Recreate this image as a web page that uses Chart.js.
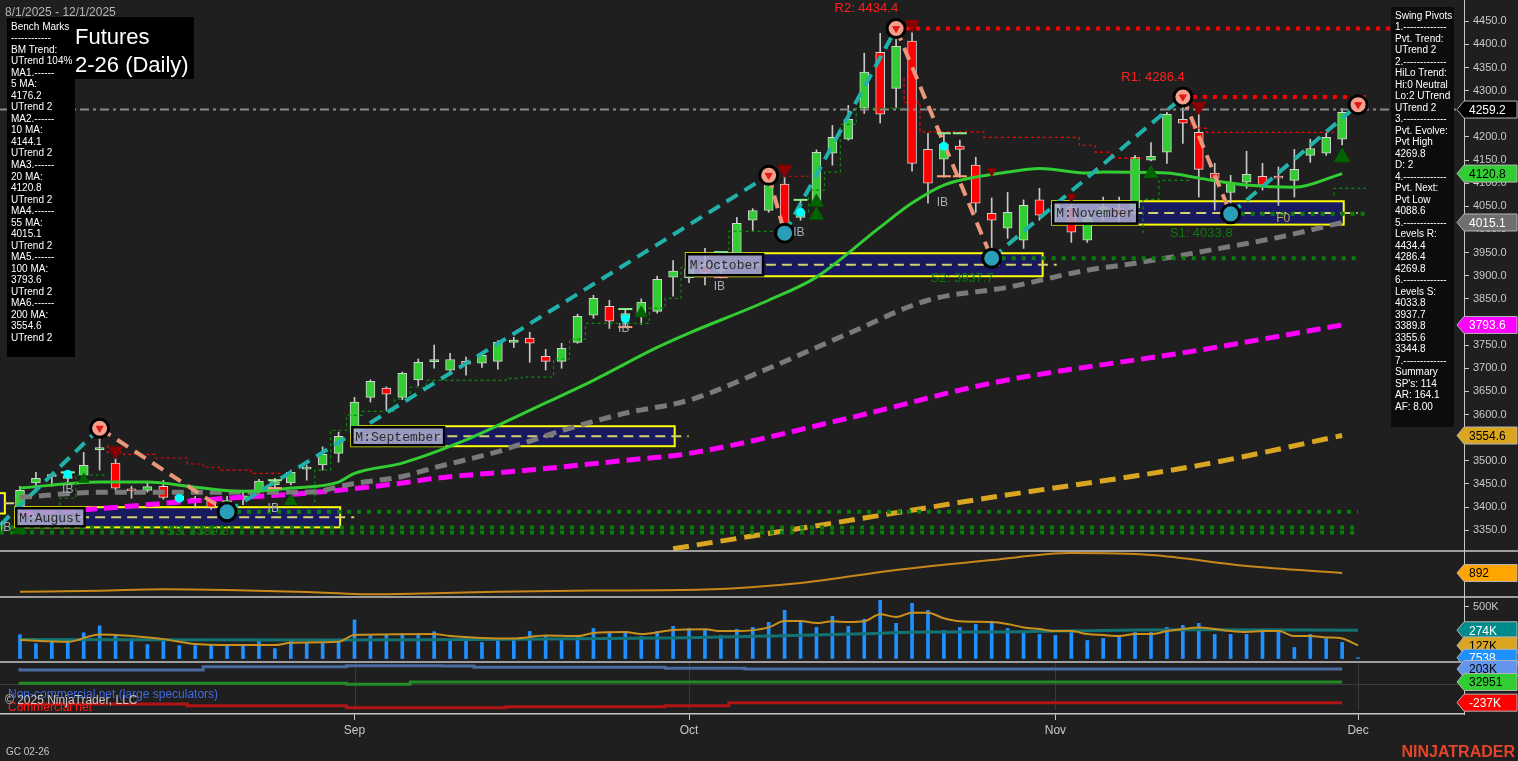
<!DOCTYPE html>
<html>
<head>
<meta charset="utf-8">
<script src="https://cdn.jsdelivr.net/npm/chart.js@4.4.1/dist/chart.umd.min.js"></script>
<style>
html, body { margin: 0; padding: 0; background: #1f1f1f; overflow: hidden; }
canvas { display: block; }
</style>
</head>
<body>
<canvas id="goldChart" width="1518" height="761"></canvas>
<script>
// ---- daily bars, GC 02-26, 8/1/2025 - 12/1/2025 (index 0 = Aug 1) ----
const openP = [3400,3452,3466,3462,3469,3524,3495,3438,3436,3445,
	3415,3419,3415,3400,3418,3432,3448,3452,3482,3491,
	3516,3560,3637,3657,3637,3675,3714,3696,3715,3711,
	3715,3756,3765,3726,3715,3756,3815,3834,3808,3814,
	3823,3897,3895,3922,3910,3949,4020,4041,4098,4026,
	4059,4165,4195,4262,4383,4305,4407,4173,4152,4180,
	4139,4035,4003,3977,4064,4031,4048,3977,4030,4045,
	4046,4150,4167,4238,4210,4122,4080,4102,4115,4114,
	4106,4160,4165,4195,4255];
const highP = [3445,3475,3472,3476,3518,3570,3505,3445,3454,3458,
	3436,3423,3421,3423,3436,3460,3462,3480,3490,3530,
	3562,3637,3675,3660,3692,3720,3750,3732,3724,3732,
	3760,3767,3778,3741,3754,3817,3858,3847,3828,3850,
	3899,3933,3935,3959,3930,4026,4045,4117,4113,4064,
	4172,4225,4268,4381,4424,4434.4,4426,4208,4208,4193,
	4156,4068,4080,4064,4089,4060,4057,4037,4070,4070,
	4160,4188,4253,4286.4,4251,4143,4117,4169,4143,4135,
	4173,4195,4208,4262,4269.8];
const lowP = [3390,3432,3445,3450,3462,3480,3436,3419,3432,3417,
	3410,3398,3395,3389.8,3405,3419,3438,3448,3458,3480,
	3497,3550,3627,3609,3632,3662,3700,3692,3685,3702,
	3698,3745,3713,3696,3700,3754,3808,3786,3790,3795,
	3819,3856,3885,3880,3895,3945,3998,4037,3992,4020,
	4057,4139,4193,4251,4230,4264,4126,4057,4113,4113,
	4037,3937.7,3981,3959,4020,4010,3972,3972,4020,4013,
	4041,4148,4143,4186,4070,4042,4033.8,4089,4085,4052,
	4070,4145,4160,4183,4248];
const closeP = [3436,3462,3468,3466,3490,3526,3441,3435,3444,3421,
	3424,3412,3400,3414,3424,3456,3455,3475,3486,3514,
	3553,3627,3672,3644,3689,3713,3719,3719,3709,3728,
	3756,3761,3754,3715,3743,3812,3851,3802,3818,3843,
	3892,3910,3915,3906,3915,4013,4041,4100,3998,4037,
	4167,4199,4238,4340,4249,4396,4143,4100,4184,4173,
	4057,4020,4037,4052,4031,4052,3994,4026,4048,4030,
	4156,4158,4249,4230,4130,4111,4100,4119,4096,4111,
	4130,4175,4199,4253,4259.2];
const volumeK = [231,144,157,157,250,317,221,192,135,167,
	125,125,135,135,125,183,96,173,151,151,
	189,375,221,231,240,231,260,183,212,156,
	192,192,263,224,195,224,292,244,263,214,
	263,312,292,283,224,283,302,351,468,361,
	302,409,312,380,565,341,536,468,273,302,
	331,341,292,253,234,224,253,175,195,214,
	253,253,302,322,341,234,234,234,273,253,
	107,234,195,156,7.5];

// axis ticks
const monthTickIdx = [21, 42, 65, 84];
const monthTickLabels = ['Sep', 'Oct', 'Nov', 'Dec'];
const priceTicks = [3350,3400,3450,3500,3550,3600,3650,3700,3750,3800,3850,3900,
	3950,4000,4050,4100,4150,4200,4250,4300,4350,4400,4450];
const volTicks = [500];

// moving averages (bar index, value)
const ma20Idx = [0,5,8,11,14,17,20,21,24,28,32,36,40,42,47,50,54,56,58,62,64,67,68,72,74,77,80,83];
const ma20Val = [3441,3454,3454,3443,3434,3441,3454,3473,3495,3545,3609,3674,3745,3776,3847,3897,4005,4057,4096,4124,4132,4122,4124,4122,4111,4096,4091,4120.8];
const ma55Idx = [0,5,13,18,21,24,26,30,34,38,42,47,52,57,62,67,70,74,79,83];
const ma55Val = [3421,3432,3432,3432,3451,3466,3485,3520,3565,3603,3631,3700,3775,3847,3875,3912,3927,3951,3983,4015.1];
const ma100Idx = [0,4,9,13,18,24,26,32,38,42,52,61,74,83];
const ma100Val = [3386,3394,3408,3419,3430,3452,3462,3480,3501,3516,3592,3668,3739,3793.6];
const ma200Idx = [41,49,61,74,83];
const ma200Val = [3310,3354,3421,3490,3554.6];
const lastPrice = 4259.2;

// swing pivots
const swingIdx = [-1.25, 5, 13, 47, 48, 55, 61, 73, 76, 84];
const swingPrice = [3361, 3570.4, 3389.8, 4117, 3992, 4434.4, 3937.7, 4286.4, 4033.8, 4269.8];

// swing levels (dotted)
const levelStart = [55, 73, 76, 61, 13, -1.25, -1.25];
const levelEnd = [89.1, 84.5, 84.5, 84, 84, 84, 84];
const levelPrice = [4434.4, 4286.4, 4033.8, 3937.7, 3389.8, 3355.6, 3344.8];
const levelIsRes = [true, true, false, false, false, false, false];
const levelTextIdx = [55, 73, 76, 61, 13];
const levelTextPrice = [4434.4, 4286.4, 4033.8, 3937.7, 3389.8];
const levelTextLabel = ['R2: 4434.4', 'R1: 4286.4', 'S1: 4033.8', 'S2: 3937.7', 'S3: 3389.8'];

// trailing stops (stepped)
const redStopIdx = [[5.5,6.5,8.5,10.5,11.5,12.5,14.5,15.5,16.5], [47.5,49.5], [55.5,56.5,60.5,66.5,67.5,68.5,69.5,70.5], [73.5,74.5,75.5,82.5]];
const redStopVal = [[3534,3518,3514,3506,3493,3486,3480,3473,3473], [4115,4115], [4327,4275,4211,4199,4182,4167,4154,4154], [4243,4219,4210,4210]];
const greenStopIdx = [[2.5,3.5,4.5,5.5], [18.5,19.5,20.5,21.5,23.5,24.5,25.5,30.5,31.5,33.5,34.5,35.5,39.5,40.5,41.5,44.5,46.5,47.9], [49.5,50.5,51.5,52.5,53.5,55.5], [70.5,71.5,72.5,73.5], [82.5,83.5,84.5]];
const greenStopVal = [[3378,3419,3469,3469], [3410,3480,3566,3598,3607,3633,3659,3674,3678,3681,3720,3763,3797,3830,3851,3918,3996,3996], [4037,4085,4124,4227,4262,4262], [3992,4065,4106,4106], [4074,4089,4089]];

// monthly boxes
const boxStart = [-3, -0.3, 20.8, 41.8, 64.8];
const boxEnd = [-0.95, 20.1, 41.1, 64.2, 83.1];
const boxHigh = [3430, 3399.7, 3574.7, 3948.6, 4061];
const boxLow = [3386, 3356.1, 3531.5, 3898.9, 4010.5];
const boxNames = ['', 'M:August', 'M:September', 'M:October', 'M:November'];

// markers
const downTriIdx = [6, 48, 56, 61, 66, 74];
const downTriPrice = [3521, 4130, 4443, 4126, 4070, 4266];
const upTriIdx = [0, 4, 13, 17, 39, 50, 50, 71, 83];
const upTriPrice = [3352, 3460, 3380, 3413, 3819, 4059, 4031, 4121, 4156];
const cyanIdx = [3, 10, 38, 49, 58];
const cyanPrice = [3471, 3419, 3807, 4037, 4180];
const ibHiIdx = [3, 16, 38, 44, 49, 58, 59];
const ibHiPrice = [3475, 3458, 3828, 3951, 4064, 4208, 4208];
const ibLoIdx = [16, 38, 44, 58, 59];
const ibLoPrice = [3441, 3789, 3897, 4115, 4115];
const ibTextIdx = [-0.9, 3, 15.9, 37.9, 43.9, 48.9, 57.9];
const ibTextPrice = [3356, 3438, 3397, 3786, 3877, 3992, 4057];

// indicator panel
const indIdx = [0,5,9,13,18,20,22,26,30,36,43,49,55,61,66,71,77,83];
const indVal = [197,234,286,260,186,138,100,138,197,240,279,520,1004,1375,1635,1561,1152,892];

// volume averages (K)
const volFastIdx = [0,3,5,7,9,11,14,16,17,20,21,26,27,29,31,33,35,36,38,39,41,43,44,45,47,48,49,50,51,52,53,54,55,56,57,58,59,61,62,63,64,65,66,67,68,69,70,71,72,73,74,75,76,77,78,79,80,81,82,83,84];
const volFastVal = [179,162,234,218,188,140,130,130,153,162,227,237,218,200,195,224,218,247,257,237,276,283,266,266,302,364,364,344,361,354,361,429,403,445,445,390,361,354,335,302,286,266,266,237,227,218,237,237,266,286,302,286,266,257,266,266,218,218,205,195,127];
const volSlowIdx = [0,20,29,42,47,53,57,60,65,70,74,84];
const volSlowVal = [185,180,185,201,218,240,257,257,266,276,280,274];

// COT net positions (K)
const cotSpecIdx = [0,11.5,20.5,26.5,28.5,40.5,45.5,50.5,83];
const cotSpecVal = [212,189,232,246,242,225,212,203,203];
const cotSmallIdx = [0,20.5,24.5,30.5,83];
const cotSmallVal = [33,16,3,33,33];
const cotCommIdx = [0,10.5,20.5,30.5,40.5,44.5,50.5,83];
const cotCommVal = [-289,-254,-276,-302,-289,-276,-237,-237];

// right-side value flags
const flagAxis = ['y','y','y','y','y','yInd','yVol','yVol','yVol','yCot','yCot','yCot'];
const flagValue = [4259.2, 4120.8, 4015.1, 3793.6, 3554.6, 892, 274, 127, 7.5, 203, 33, -237];
const flagText = ['4259.2','4120.8','4015.1','3793.6','3554.6','892','274K','127K','7538','203K','32951','-237K'];
const flagBg = ['#000000','#32cd32','#6e6e6e','#ff00ff','#daa520','#ffa500','#008b8b','#daa520','#1e90ff','#6495ed','#32cd32','#ff0000'];
const flagFg = ['#ffffff','#000000','#ffffff','#ffffff','#000000','#000000','#ffffff','#000000','#ffffff','#000000','#000000','#ffffff'];

const benchLines = ['Bench Marks','------------','BM Trend:','UTrend 104%','MA1.------','5 MA:','4176.2','UTrend 2',
	'MA2.------','10 MA:','4144.1','UTrend 2','MA3.------','20 MA:','4120.8','UTrend 2','MA4.------','55 MA:',
	'4015.1','UTrend 2','MA5.------','100 MA:','3793.6','UTrend 2','MA6.------','200 MA:','3554.6','UTrend 2'];
const swingLines = ['Swing Pivots','1.-------------','Pvt. Trend:','UTrend 2','2.-------------','HiLo Trend:',
	'Hi:0 Neutral','Lo:2 UTrend','UTrend 2','3.-------------','Pvt. Evolve:','Pvt High','4269.8','D: 2',
	'4.-------------','Pvt. Next:','Pvt Low','4088.6','5.-------------','Levels R:','4434.4','4286.4','4269.8',
	'6.-------------','Levels S:','4033.8','3937.7','3389.8','3355.6','3344.8','7.-------------','Summary',
	"SP's: 114",'AR: 164.1','AF: 8.00'];

const FONT = '"Liberation Sans", Arial, sans-serif';
const MONO = '"Liberation Mono", "DejaVu Sans Mono", monospace';
const BG = '#1f1f1f';
const AXIS = '#c8c8c8';
const TEAL = '#20b2aa';
const SALMON = '#e9967a';

const pts = (xs, ys) => xs.map((v, k) => ({ x: v, y: ys[k] }));
const barIdx = openP.map((_, i) => i);
const xMin = -1.255, xMax = 90.65;

const datasets = [];

// candles: wicks then bodies
datasets.push({
	type: 'bar', yAxisID: 'y', grouped: false, order: 30,
	data: barIdx.map(i => ({ x: i, y: [lowP[i], highP[i]] })),
	barThickness: 1, backgroundColor: '#c8c8c8'
});
datasets.push({
	type: 'bar', yAxisID: 'y', grouped: false, order: 29,
	data: barIdx.map(i => ({ x: i, y: [openP[i], closeP[i]] })),
	barThickness: 9, minBarLength: 2, borderWidth: 1, borderSkipped: false, borderColor: '#d4d4d4',
	backgroundColor: barIdx.map(i => closeP[i] >= openP[i] ? '#32cd32' : '#ff0000')
});

function maLine(xs, ys, color, dash, width, order) {
	return {
		type: 'line', yAxisID: 'y', order: order, data: pts(xs, ys),
		borderColor: color, borderWidth: width, borderDash: dash,
		pointRadius: 0, cubicInterpolationMode: 'monotone', fill: false
	};
}
datasets.push(maLine(ma200Idx, ma200Val, '#daa520', [16, 8], 5, 26));
datasets.push(maLine(ma100Idx, ma100Val, '#ff00ff', [14, 7], 5, 25));
datasets.push(maLine(ma55Idx, ma55Val, '#7a7a7a', [12, 7], 5, 24));
datasets.push(maLine(ma20Idx, ma20Val, '#32cd32', [], 3, 23));

// last price line
datasets.push({
	type: 'line', yAxisID: 'y', order: 22,
	data: [{ x: xMin, y: lastPrice }, { x: xMax, y: lastPrice }],
	borderColor: '#8a8a8a', borderWidth: 2, borderDash: [9, 4, 3, 4], pointRadius: 0
});

// swing levels
levelPrice.forEach((p, k) => {
	datasets.push({
		type: 'line', yAxisID: 'y', order: 20,
		data: [{ x: levelStart[k], y: p }, { x: levelEnd[k], y: p }],
		borderColor: levelIsRes[k] ? '#ff0000' : '#0b7d0b', borderWidth: 4, borderDash: [4, 6], pointRadius: 0
	});
});

// trailing stops
redStopIdx.forEach((xs, k) => {
	datasets.push({
		type: 'line', yAxisID: 'y', order: 19, data: pts(xs, redStopVal[k]), stepped: 'after',
		borderColor: '#ff0000', borderWidth: 1.2, borderDash: [3, 3], pointRadius: 0
	});
});
greenStopIdx.forEach((xs, k) => {
	datasets.push({
		type: 'line', yAxisID: 'y', order: 19, data: pts(xs, greenStopVal[k]), stepped: 'after',
		borderColor: '#0d8a0d', borderWidth: 1.2, borderDash: [3, 3], pointRadius: 0
	});
});

// swing lines
datasets.push({
	type: 'line', yAxisID: 'y', order: 10, data: pts(swingIdx, swingPrice),
	borderWidth: 4, borderDash: [13, 8], pointRadius: 0, borderColor: TEAL,
	segment: { borderColor: c => c.p1.parsed.y > c.p0.parsed.y ? TEAL : SALMON }
});

// markers
function marks(xs, ys, style, color, radius, rot, order, extra) {
	return Object.assign({
		type: 'line', yAxisID: 'y', showLine: false, order: order, data: pts(xs, ys),
		pointStyle: style, pointRadius: radius, pointRotation: rot,
		pointBackgroundColor: color, pointBorderColor: color, pointBorderWidth: 1
	}, extra || {});
}
datasets.push(marks(downTriIdx, downTriPrice, 'triangle', '#8b0000', [8, 8, 8, 5, 5, 8], 180, 7));
datasets.push(marks(upTriIdx, upTriPrice, 'triangle', '#006400', [8, 6, 5, 7, 7, 8, 8, 8, 9], 0, 7));
datasets.push(marks(ibHiIdx, ibHiPrice, 'line', '#90ee90', 7, 0, 8, { pointBorderWidth: 2 }));
datasets.push(marks(ibLoIdx, ibLoPrice, 'line', '#ffa07a', 7, 0, 8, { pointBorderWidth: 2 }));
datasets.push(marks(cyanIdx, cyanPrice, 'circle', '#00ffff', 4, 0, 6));

// pivot circles
const hiPiv = [], loPiv = [];
swingIdx.forEach((v, k) => {
	if (k === 0) return;
	(swingPrice[k] > swingPrice[k - 1] ? hiPiv : loPiv).push({ x: v, y: swingPrice[k] });
});
datasets.push({ type: 'line', yAxisID: 'y', showLine: false, order: 5, data: hiPiv,
	pointRadius: 9, pointBorderWidth: 3, pointBorderColor: '#000', pointBackgroundColor: '#f2a08c' });
datasets.push({ type: 'line', yAxisID: 'y', showLine: false, order: 5, data: loPiv,
	pointRadius: 9, pointBorderWidth: 3, pointBorderColor: '#000', pointBackgroundColor: '#2a9db8' });
datasets.push({ type: 'line', yAxisID: 'y', showLine: false, order: 4, data: hiPiv,
	pointStyle: 'triangle', pointRotation: 180, pointRadius: 4, pointBackgroundColor: '#e01818', pointBorderColor: '#e01818' });

// indicator panel
datasets.push({ type: 'line', yAxisID: 'yInd', order: 3, data: pts(indIdx, indVal),
	borderColor: '#c8871a', borderWidth: 2, pointRadius: 0, cubicInterpolationMode: 'monotone' });

// volume panel
datasets.push({ type: 'bar', yAxisID: 'yVol', grouped: false, order: 12,
	data: barIdx.map(i => ({ x: i, y: volumeK[i] })), barThickness: 3, backgroundColor: '#1e90ff' });
datasets.push({ type: 'line', yAxisID: 'yVol', order: 11, data: pts(volSlowIdx, volSlowVal),
	borderColor: '#137272', borderWidth: 3, pointRadius: 0, cubicInterpolationMode: 'monotone' });
datasets.push({ type: 'line', yAxisID: 'yVol', order: 10, data: pts(volFastIdx, volFastVal),
	borderColor: '#c8901e', borderWidth: 2, pointRadius: 0, cubicInterpolationMode: 'monotone' });

// COT panel
datasets.push({ type: 'line', yAxisID: 'yCot', order: 3, data: pts(cotSpecIdx, cotSpecVal), stepped: 'after',
	borderColor: '#4a6aa0', borderWidth: 3, pointRadius: 0 });
datasets.push({ type: 'line', yAxisID: 'yCot', order: 3, data: pts(cotSmallIdx, cotSmallVal), stepped: 'after',
	borderColor: '#238b23', borderWidth: 3, pointRadius: 0 });
datasets.push({ type: 'line', yAxisID: 'yCot', order: 3, data: pts(cotCommIdx, cotCommVal), stepped: 'after',
	borderColor: '#b01414', borderWidth: 3, pointRadius: 0 });

function fitRight(s) { s.width = 54; s.paddingTop = 0; s.paddingBottom = 0; }

const overlay = {
	id: 'overlay',
	beforeDraw(chart) {
		const c = chart.ctx;
		c.save();
		c.fillStyle = BG;
		c.fillRect(0, 0, chart.width, chart.height);
		c.restore();
	},
	beforeDatasetsDraw(chart) {
		const c = chart.ctx, x = chart.scales.x, y = chart.scales.y, yc = chart.scales.yCot;
		c.save();
		// COT zero line & month lines
		c.strokeStyle = '#3a3a3a';
		c.lineWidth = 1;
		const y0 = yc.getPixelForValue(0);
		c.beginPath(); c.moveTo(0, y0); c.lineTo(x.right, y0); c.stroke();
		monthTickIdx.forEach(v => {
			const px = Math.round(x.getPixelForValue(v)) + 0.5;
			c.beginPath(); c.moveTo(px, yc.top + 1); c.lineTo(px, yc.bottom - 4); c.stroke();
		});
		// monthly boxes
		for (let k = 0; k < boxStart.length; k++) {
			const x0 = x.getPixelForValue(boxStart[k]), x1 = x.getPixelForValue(boxEnd[k]);
			const t = y.getPixelForValue(boxHigh[k]), b = y.getPixelForValue(boxLow[k]);
			c.fillStyle = 'rgba(25,25,100,0.95)';
			c.fillRect(x0, t, x1 - x0, b - t);
			c.strokeStyle = '#ffff00';
			c.lineWidth = 2;
			c.strokeRect(x0, t, x1 - x0, b - t);
			const ym = (t + b) / 2;
			c.setLineDash([10, 6]);
			c.strokeStyle = '#d4d070';
			c.beginPath(); c.moveTo(x0, ym); c.lineTo(x1 + 14, ym); c.stroke();
			c.setLineDash([]);
		}
		c.restore();
	},
	afterDatasetsDraw(chart) {
		const c = chart.ctx, x = chart.scales.x, y = chart.scales.y;
		c.save();
		// box labels
		c.font = '13px ' + MONO;
		c.textBaseline = 'middle';
		for (let k = 0; k < boxStart.length; k++) {
			if (!boxNames[k]) continue;
			const x0 = x.getPixelForValue(boxStart[k]);
			const t = y.getPixelForValue(boxHigh[k]), b = y.getPixelForValue(boxLow[k]);
			const w = c.measureText(boxNames[k]).width + 8;
			c.fillStyle = 'rgba(170,170,205,0.88)';
			c.fillRect(x0, t, w, b - t);
			c.strokeStyle = '#000';
			c.lineWidth = 2.5;
			c.strokeRect(x0 + 1, t + 1, w - 2, b - t - 2);
			c.fillStyle = '#2a2a2a';
			c.textAlign = 'left';
			c.fillText(boxNames[k], x0 + 4, (t + b) / 2 + 1);
		}
		// level texts
		c.font = '13px ' + FONT;
		c.textAlign = 'right';
		levelTextLabel.forEach((txt, k) => {
			const res = txt[0] === 'R';
			c.fillStyle = res ? '#ff2020' : '#0b7a0b';
			const py = y.getPixelForValue(levelTextPrice[k]) + (res ? -20 : 20);
			c.fillText(txt, x.getPixelForValue(levelTextIdx[k]) + 2, py);
		});
		// IB labels
		c.font = '12px ' + FONT;
		c.textAlign = 'center';
		c.fillStyle = '#a4acb8';
		ibTextIdx.forEach((v, k) => c.fillText('IB', x.getPixelForValue(v), y.getPixelForValue(ibTextPrice[k])));
		c.fillStyle = '#b8b050';
		c.fillText('F0', x.getPixelForValue(79.3), y.getPixelForValue(4024));
		c.restore();
	},
	afterDraw(chart) {
		const c = chart.ctx, s = chart.scales;
		c.save();
		// pane separators
		c.strokeStyle = AXIS;
		c.lineWidth = 1.5;
		['yInd', 'yVol', 'yCot'].forEach(id => {
			c.beginPath(); c.moveTo(0, s[id].top); c.lineTo(chart.width, s[id].top); c.stroke();
		});
		// value flags
		c.font = '12px ' + FONT;
		c.textBaseline = 'middle';
		c.textAlign = 'left';
		flagValue.forEach((v, k) => {
			const py = s[flagAxis[k]].getPixelForValue(v);
			const h = 17, xl = 1457, xr = 1517, xa = 1464;
			c.beginPath();
			c.moveTo(xl, py); c.lineTo(xa, py - h / 2); c.lineTo(xr, py - h / 2);
			c.lineTo(xr, py + h / 2); c.lineTo(xa, py + h / 2); c.closePath();
			c.fillStyle = flagBg[k]; c.fill();
			c.strokeStyle = '#b4b4b4'; c.lineWidth = 1; c.stroke();
			c.fillStyle = flagFg[k];
			c.fillText(flagText[k], 1469, py + 1);
		});
		// title
		c.fillStyle = '#000';
		c.fillRect(30, 17, 164, 62);
		c.fillStyle = '#ffffff';
		c.font = '22px ' + FONT;
		c.textBaseline = 'alphabetic';
		c.fillText('Gold Futures', 75 - c.measureText('Gold ').width, 44);
		c.fillText('GC 02-26 (Daily)', 75 - c.measureText('GC 0').width, 72);
		// bench marks panel
		c.fillStyle = '#000';
		c.fillRect(7, 18, 68, 339);
		c.fillStyle = '#ffffff';
		c.font = '10px ' + FONT;
		c.textBaseline = 'middle';
		benchLines.forEach((t, k) => c.fillText(t, 11, 27 + k * 11.52));
		// swing pivots panel
		c.fillStyle = '#0c0c0c';
		c.fillRect(1391, 7, 63, 420);
		c.fillStyle = '#ffffff';
		swingLines.forEach((t, k) => c.fillText(t, 1395, 16 + k * 11.5));
		// misc texts
		c.textBaseline = 'alphabetic';
		c.font = '12px ' + FONT;
		c.fillStyle = '#b4b4b4';
		c.fillText('8/1/2025 - 12/1/2025', 5, 16);
		c.fillStyle = '#4169e1';
		c.fillText('Non-commercial net (large speculators)', 8, 698);
		c.fillStyle = '#ff1a1a';
		c.fillText('Commercial net', 8, 711);
		c.fillStyle = '#c8c8c8';
		c.fillText('\u00a9 2025 NinjaTrader, LLC', 5, 704);
		c.font = '10px ' + FONT;
		c.fillText('GC 02-26', 6, 755);
		c.font = 'bold 16px ' + FONT;
		c.fillStyle = '#e2452c';
		c.textAlign = 'right';
		c.fillText('NINJATRADER', 1515, 757);
		c.restore();
	}
};

new Chart(document.getElementById('goldChart').getContext('2d'), {
	type: 'bar',
	data: { datasets: datasets },
	plugins: [overlay],
	options: {
		responsive: false,
		animation: false,
		devicePixelRatio: 1,
		events: [],
		layout: { padding: 0, autoPadding: false },
		plugins: { legend: { display: false }, tooltip: { enabled: false } },
		scales: {
			x: {
				type: 'linear', min: xMin, max: xMax, offset: false,
				grid: { display: true, offset: false, drawOnChartArea: false, drawTicks: true, tickLength: 6, color: AXIS },
				border: { display: true, color: AXIS, width: 1.5 },
				ticks: {
					color: AXIS, font: { family: FONT, size: 12 }, padding: 3, maxRotation: 0, autoSkip: false,
					callback: v => { const k = monthTickIdx.indexOf(v); return k >= 0 ? monthTickLabels[k] : ''; }
				},
				afterBuildTicks: sc => { sc.ticks = monthTickIdx.map(v => ({ value: v })); },
				afterFit: sc => { sc.height = 47; sc.paddingLeft = 0; sc.paddingRight = 0; }
			},
			y: {
				type: 'linear', position: 'right', stack: 'panes', stackWeight: 551,
				min: 3305, max: 4496,
				grid: { display: true, drawOnChartArea: false, drawTicks: true, tickLength: 5, color: AXIS },
				border: { display: true, color: AXIS },
				ticks: { color: AXIS, font: { family: FONT, size: 11 }, padding: 4, autoSkip: false, callback: v => v.toFixed(1) },
				afterBuildTicks: sc => { sc.ticks = priceTicks.map(v => ({ value: v })); },
				afterFit: fitRight
			},
			yInd: {
				type: 'linear', position: 'right', stack: 'panes', stackWeight: 46,
				min: 0, max: 1710,
				grid: { display: false }, border: { display: true, color: AXIS },
				ticks: { display: false },
				afterFit: fitRight
			},
			yVol: {
				type: 'linear', position: 'right', stack: 'panes', stackWeight: 65,
				min: -34, max: 597,
				grid: { display: true, drawOnChartArea: false, drawTicks: true, tickLength: 5, color: AXIS },
				border: { display: true, color: AXIS },
				ticks: { color: AXIS, font: { family: FONT, size: 11 }, padding: 4, callback: v => v + 'K' },
				afterBuildTicks: sc => { sc.ticks = volTicks.map(v => ({ value: v })); },
				afterFit: fitRight
			},
			yCot: {
				type: 'linear', position: 'right', stack: 'panes', stackWeight: 52,
				min: -385, max: 294,
				grid: { display: false }, border: { display: true, color: AXIS },
				ticks: { display: false },
				afterFit: fitRight
			}
		}
	}
});
</script>
</body>
</html>
